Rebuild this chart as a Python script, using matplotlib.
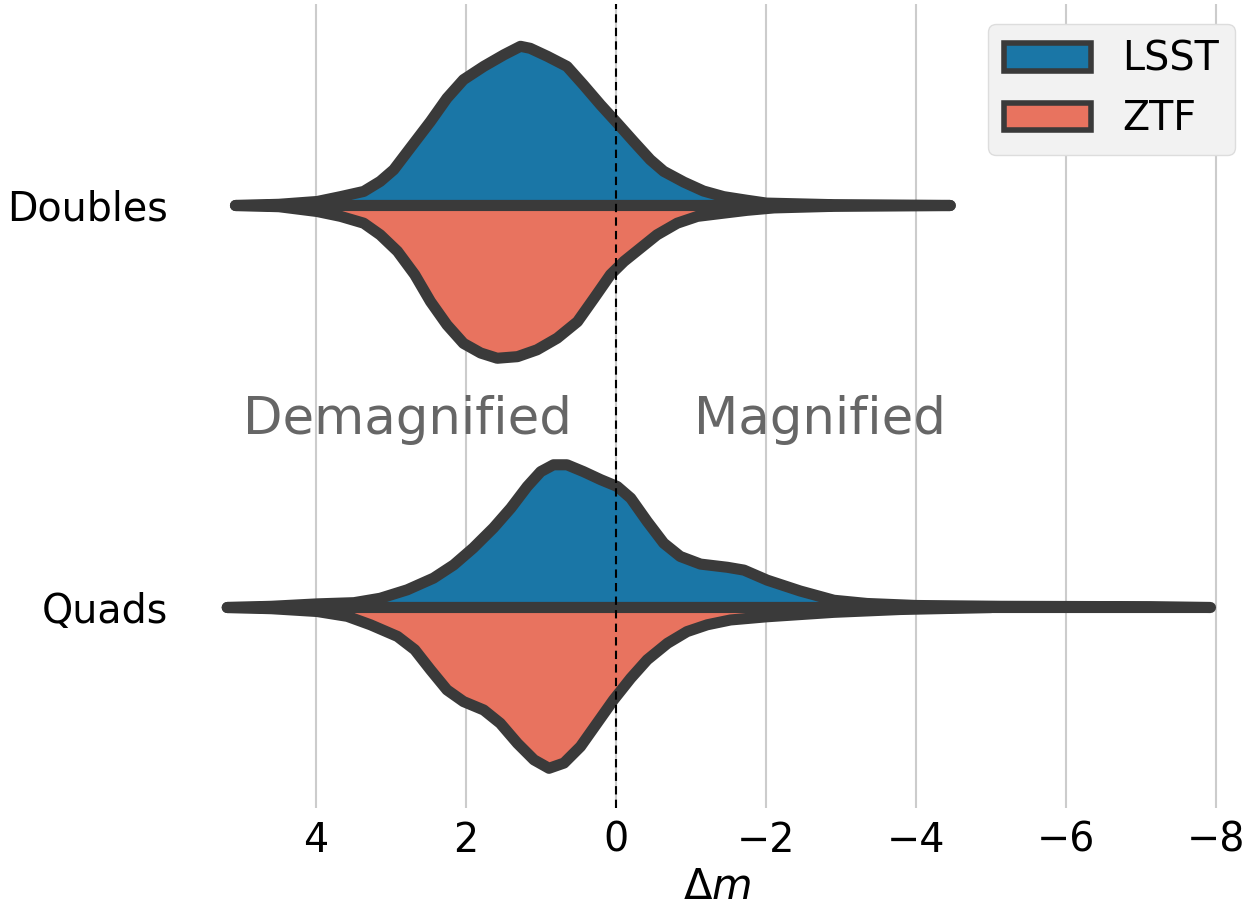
import numpy as np
import matplotlib
matplotlib.use("Agg")
import matplotlib.pyplot as plt
from matplotlib.patches import Patch

# categories and surveys
categories = ["Doubles", "Quads"]
surveys = ["LSST", "ZTF"]
colors = {"LSST": "#1a76a6", "ZTF": "#e8735f"}
edge = "#3a3a3a"

# half-violin profiles: delta m grid and half width (category units)
dbl_lsst_x = [5.08, 4.5, 3.99, 3.68, 3.37, 3.15, 2.97, 2.75, 2.48, 2.26, 2.04, 1.77, 1.50,
              1.28, 1.15, 0.92, 0.66, 0.44, 0.21, -0.01, -0.23, -0.45, -0.63, -0.9, -1.16,
              -1.43, -1.74, -2.0, -2.9, -4.45]
dbl_lsst_d = [0.0, 0.003, 0.01, 0.022, 0.035, 0.06, 0.089, 0.143, 0.209, 0.267, 0.313, 0.346,
              0.375, 0.396, 0.391, 0.371, 0.346, 0.30, 0.25, 0.205, 0.159, 0.114, 0.085, 0.058,
              0.036, 0.022, 0.013, 0.006, 0.002, 0.0]
dbl_ztf_x = [5.08, 4.5, 3.99, 3.68, 3.37, 3.15, 2.92, 2.69, 2.48, 2.26, 2.04, 1.81, 1.59,
             1.32, 1.06, 0.79, 0.52, 0.30, 0.08, -0.1, -0.32, -0.54, -0.81, -1.08, -1.43,
             -1.74, -2.1, -2.9, -4.45]
dbl_ztf_d = [0.0, 0.003, 0.015, 0.027, 0.044, 0.073, 0.114, 0.172, 0.239, 0.297, 0.343, 0.367,
             0.38, 0.376, 0.359, 0.33, 0.289, 0.231, 0.172, 0.139, 0.106, 0.073, 0.044, 0.027,
             0.019, 0.012, 0.006, 0.002, 0.0]
quad_lsst_x = [5.19, 4.6, 3.99, 3.5, 3.15, 2.79, 2.44, 2.17, 1.91, 1.64, 1.41, 1.19, 1.01,
               0.84, 0.66, 0.44, 0.21, -0.01, -0.19, -0.41, -0.63, -0.85, -1.12, -1.48,
               -1.7, -2.01, -2.45, -2.9, -3.34, -4.0, -5.12, -7.12, -7.92]
quad_lsst_d = [0.0, 0.003, 0.009, 0.012, 0.023, 0.044, 0.073, 0.106, 0.148, 0.198, 0.247,
               0.301, 0.338, 0.355, 0.355, 0.338, 0.318, 0.301, 0.272, 0.214, 0.16, 0.127,
               0.108, 0.1, 0.093, 0.068, 0.041, 0.018, 0.01, 0.005, 0.003, 0.002, 0.0]
quad_ztf_x = [5.19, 4.6, 3.99, 3.59, 3.28, 2.92, 2.69, 2.48, 2.26, 2.04, 1.77, 1.55, 1.32,
              1.10, 0.9, 0.7, 0.48, 0.26, 0.04, -0.19, -0.41, -0.68, -0.94, -1.21, -1.52,
              -2.01, -2.9, -3.78, -5.0]
quad_ztf_d = [0.0, 0.003, 0.01, 0.022, 0.043, 0.072, 0.105, 0.155, 0.205, 0.234, 0.255,
              0.288, 0.338, 0.379, 0.40, 0.387, 0.346, 0.288, 0.23, 0.176, 0.13, 0.089, 0.06,
              0.043, 0.031, 0.023, 0.012, 0.005, 0.0]

profiles = {
    ("Doubles", "LSST"): (dbl_lsst_x, dbl_lsst_d),
    ("Doubles", "ZTF"): (dbl_ztf_x, dbl_ztf_d),
    ("Quads", "LSST"): (quad_lsst_x, quad_lsst_d),
    ("Quads", "ZTF"): (quad_ztf_x, quad_ztf_d),
}

xticks = [4, 2, 0, -2, -4, -6, -8]

plt.rcParams['font.family'] = ['DejaVu Sans']
fig = plt.figure(figsize=(12.59, 9.16), dpi=100)
ax = fig.add_axes([180 / 1259, 1 - 808 / 916, 1075 / 1259, 804 / 916])

for i, cat in enumerate(categories):
    for s in surveys:
        xs, ds = profiles[(cat, s)]
        xs = np.asarray(xs, float)
        ds = np.asarray(ds, float)
        sign = -1 if s == "LSST" else 1
        poly = ax.fill_between(xs, i, i + sign * ds, facecolor=colors[s],
                               edgecolor=edge, linewidth=8, zorder=3)
        poly.set_joinstyle("round")
        poly.set_capstyle("round")

ax.axvline(0, color="black", linestyle=(0, (4, 2.5)), linewidth=1.5, zorder=4)

ax.text(2.78, 0.535, "Demagnified", ha="center", va="center", fontsize=37, color="#666666")
ax.text(-2.72, 0.535, "Magnified", ha="center", va="center", fontsize=37, color="#666666")

ax.set_xlim(5.813, -8.52)
ax.set_ylim(1.5, -0.5)
ax.set_xticks(xticks)
ax.set_xticklabels([f"{t}".replace("-", "\u2212") for t in xticks])
ax.set_yticks(range(len(categories)))
ax.set_yticklabels(categories)
ax.tick_params(length=0, labelsize=28.5, pad=9)
ax.xaxis.grid(True, color="#cccccc", linewidth=1.5, zorder=0)
ax.set_axisbelow(True)
for sp in ax.spines.values():
    sp.set_visible(False)
ax.set_xlabel(r"$\Delta m$", fontsize=30, labelpad=4)

handles = [Patch(facecolor=colors[s], edgecolor=edge, linewidth=4, label=s) for s in surveys]
leg = ax.legend(handles=handles, loc="upper right", fontsize=28.5, frameon=True,
                fancybox=True, handlelength=2.2, borderaxespad=0.5)
leg.get_frame().set_facecolor("#f2f2f2")
leg.get_frame().set_edgecolor("#dddddd")
leg.get_frame().set_alpha(1)

fig.savefig("out.png", dpi=100)
